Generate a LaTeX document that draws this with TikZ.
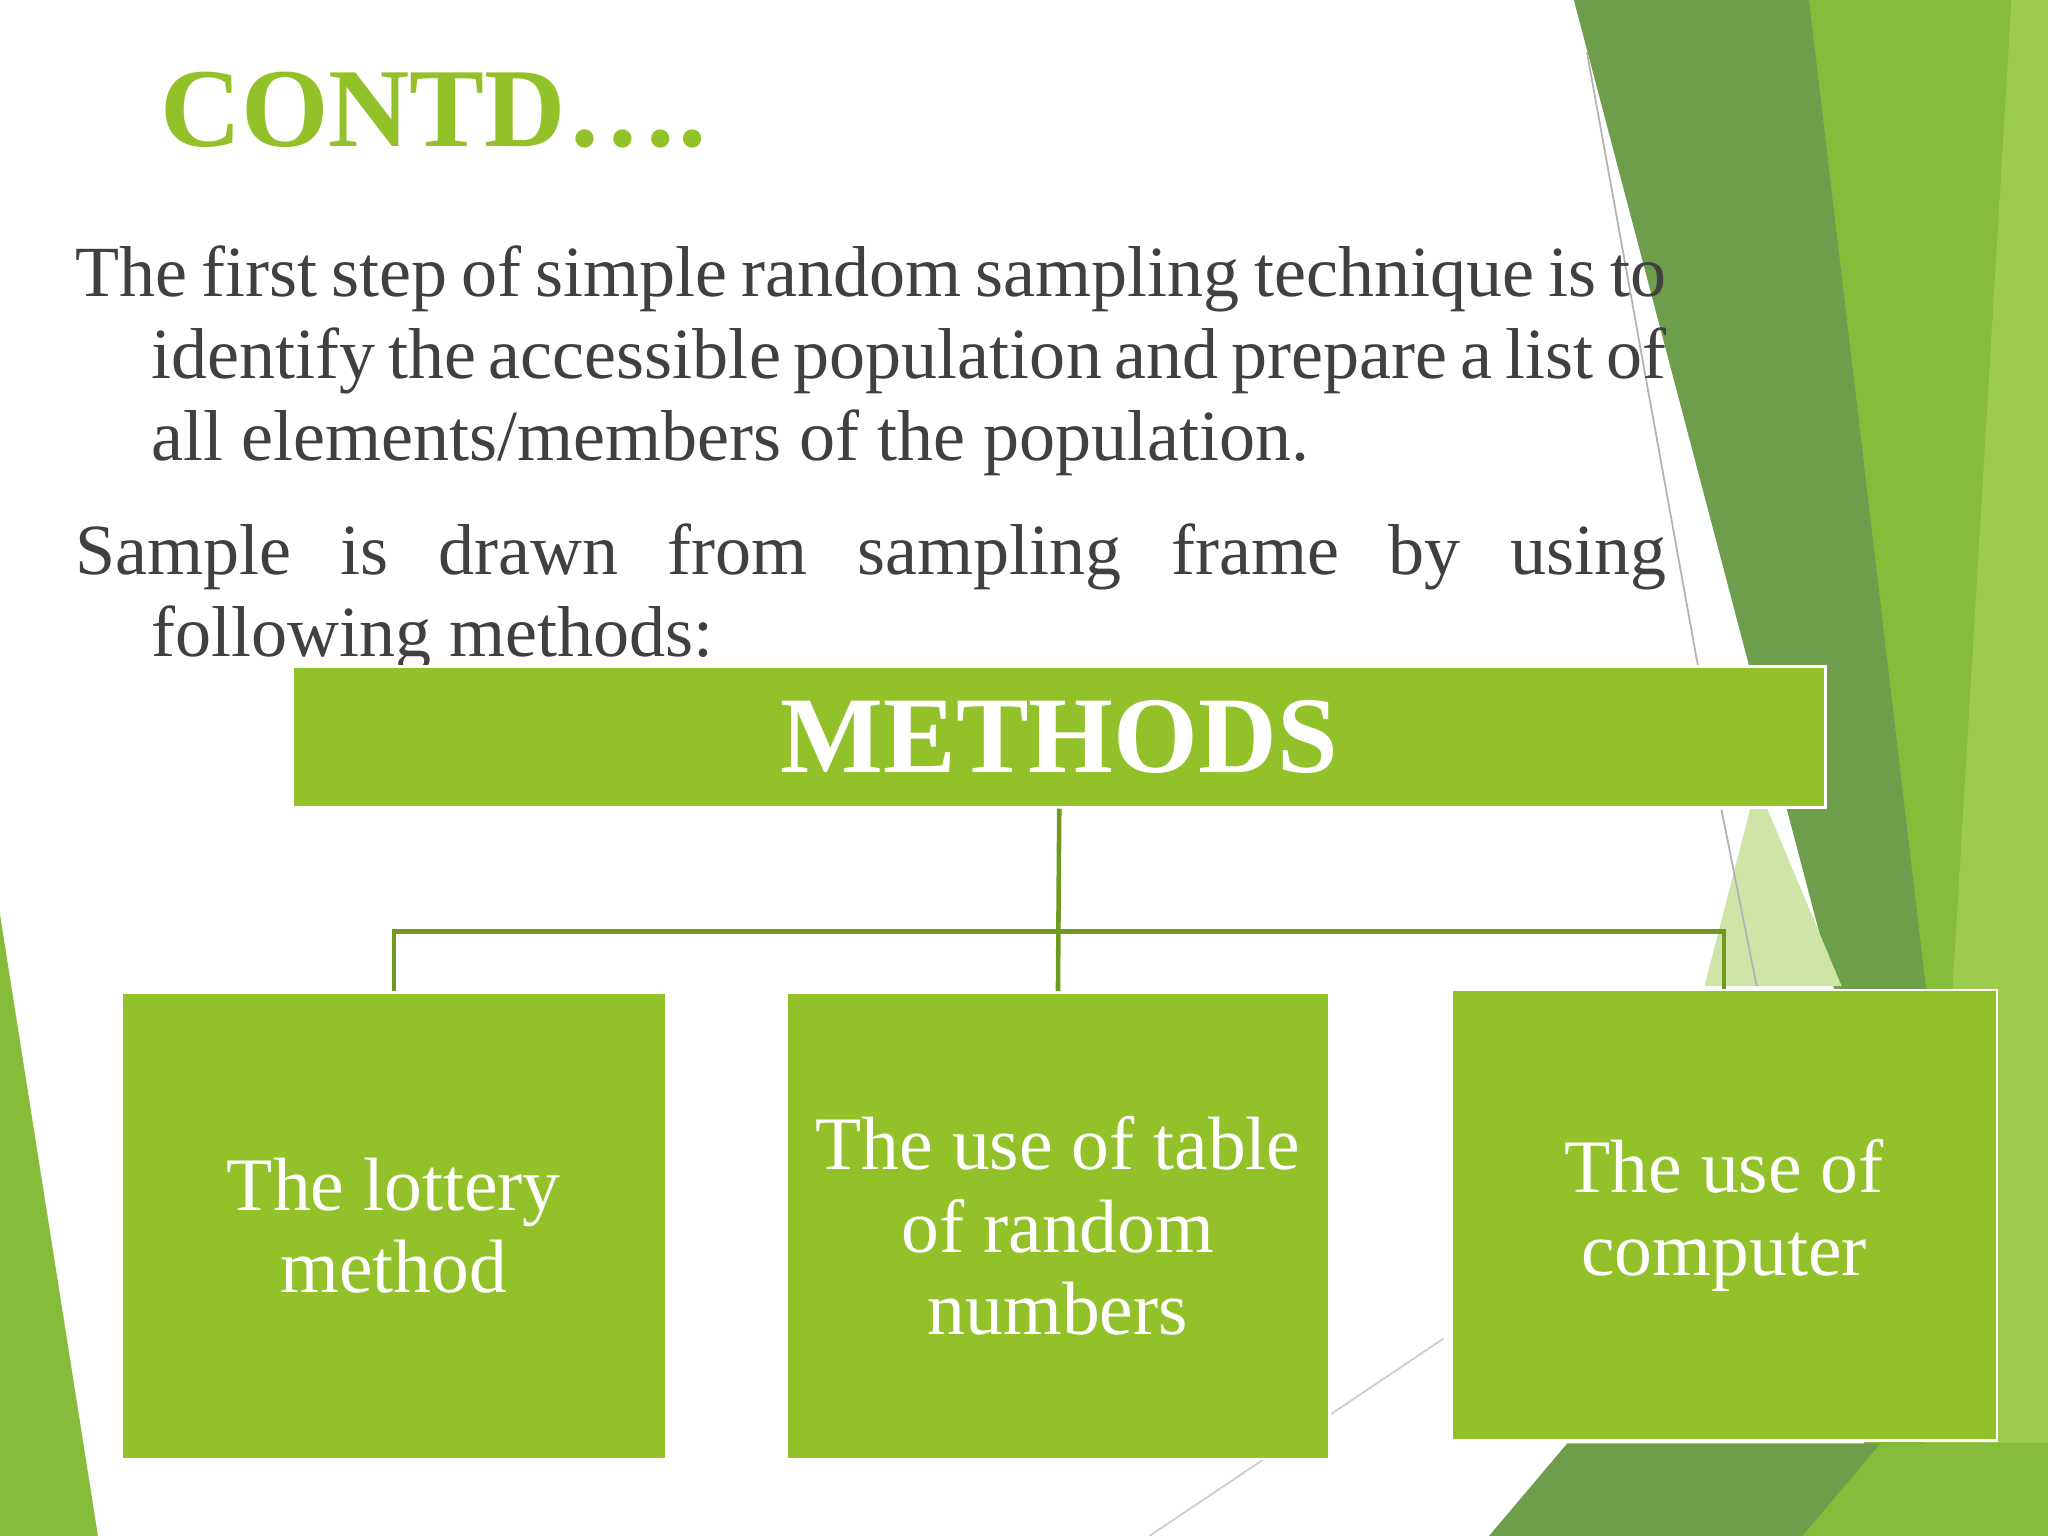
\documentclass[tikz,border=0pt]{standalone}
\usepackage{fontspec}
\setmainfont{Liberation Serif}
\definecolor{gbox}{HTML}{92C12A}
\definecolor{gline}{HTML}{6F9A1F}
\definecolor{gdark}{HTML}{6E9D4C}
\definecolor{gbright}{HTML}{86BC3A}
\definecolor{glight}{HTML}{9CCB4E}
\definecolor{gpale}{HTML}{CFE5A8}
\definecolor{txt}{HTML}{404040}
\begin{document}
\begin{tikzpicture}[x=0.013061cm,y=-0.013061cm,
  box/.style={fill=gbox,draw=white,line width=0.8pt,text=white,align=center,inner sep=0pt,font=\fontsize{21.5}{23.5}\selectfont},
  conn/.style={draw=gline,line width=1.3pt}]
\useasboundingbox (0,0) rectangle (1568,1176);
% background shapes
\fill[glight] (1380,0) -- (1568,0) -- (1568,1176) -- (1440,1176) -- cycle;
\fill[gbright] (1385,0) -- (1540,0) -- (1470,1176) -- (1430,1176) -- cycle;
\fill[gdark] (1205,0) -- (1385,0) -- (1475,760) -- (1405,760) -- cycle;
\fill[gpale] (1305,755) -- (1345,600) -- (1410,755) -- cycle;
\fill[gdark] (1140,1176) -- (1200,1105) -- (1568,1105) -- (1568,1176) -- cycle;
\fill[gbright] (1380,1176) -- (1440,1105) -- (1568,1105) -- (1568,1176) -- cycle;
\fill[gbright] (0,700) -- (0,1176) -- (75,1176) -- cycle;
\draw[gray!60,line width=0.5pt] (1215,40) -- (1300,510);
\draw[gray!60,line width=0.5pt] (1318,620) -- (1345,755);
\draw[gray!40,line width=0.5pt] (880,1176) -- (1105,1025);
% title
\node[anchor=base west,inner sep=0pt,text=gbox,font=\fontsize{32}{36}\selectfont\bfseries] (title) at (122,112) {CONTD….};
% body
\node[anchor=north west,inner sep=0pt,text=txt,font=\fontsize{20.5}{23.3}\selectfont] (body) at (57,188) {%
\parbox{15.91cm}{\hyphenpenalty=10000\exhyphenpenalty=10000\hangindent=0.76cm\hangafter=1 The first step of simple random sampling technique is to identify the accessible population and prepare a list of all elements/members of the population.\par\vspace{9pt}
\hangindent=0.76cm\hangafter=1 Sample is drawn from sampling frame by using following methods:}};
% boxes
\node[box,minimum width=15.33cm,minimum height=1.41cm,font=\fontsize{31}{34}\selectfont\bfseries] (m) at (811,564) {METHODS};
\node[box,minimum width=5.446cm,minimum height=4.663cm] (b1) at (301.5,938.5) {The lottery\\method};
\node[box,minimum width=5.433cm,minimum height=4.663cm] (b2) at (810,938.5) {The use of table\\of random\\numbers};
\node[box,minimum width=5.459cm,minimum height=4.506cm] (b3) at (1320,930.5) {The use of\\computer};
\coordinate (j) at (810,713);
\draw[conn] (m.south) -- (b2.north);
\draw[conn] (b1.north) -- (b1.north |- j) -- (b3.north |- j) -- (b3.north);
\end{tikzpicture}
\end{document}
